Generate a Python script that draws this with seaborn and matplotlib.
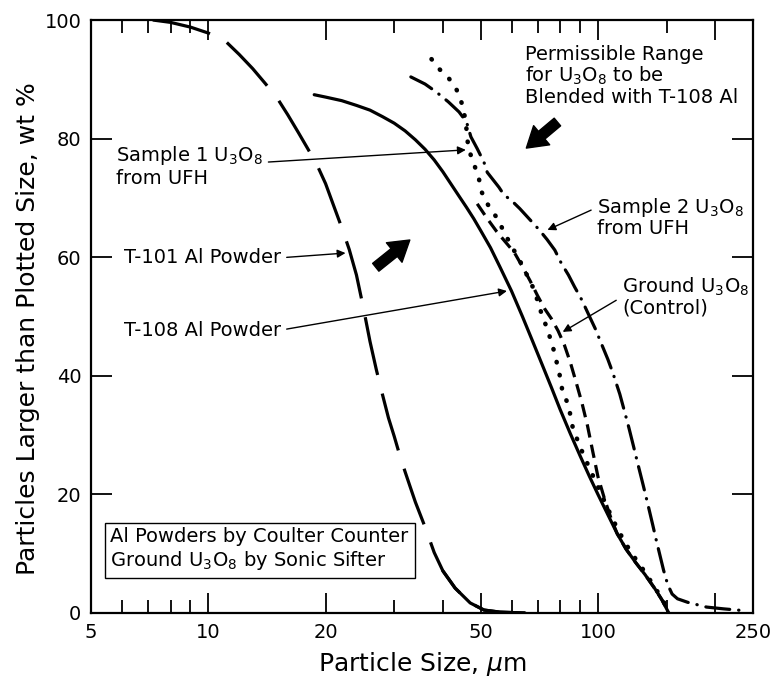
import matplotlib
matplotlib.use("Agg")
import matplotlib.pyplot as plt
from matplotlib.ticker import NullFormatter
import seaborn as sns

# ---------------- data ----------------
t101_x = [7.2, 8.0, 9.0, 10.0, 11.0, 12.0, 13.0, 14.0, 15.0, 16.0, 17.0, 18.0, 19.0,
          20.0, 21.0, 22.0, 23.0, 24.0, 25.0, 26.0, 27.0, 28.0, 29.0, 30.0, 31.0,
          32.0, 33.0, 34.0, 36.0, 38.0, 40.0, 43.0, 47.0, 51.0, 56.0, 65.0]
t101_y = [100.0, 99.6, 98.8, 97.8, 96.6, 94.2, 91.8, 89.3, 86.9, 84.0, 81.1, 78.3, 75.6,
          72.4, 68.6, 65.0, 61.3, 57.0, 51.5, 45.8, 41.0, 36.8, 32.9, 29.8, 26.6,
          23.8, 21.2, 18.7, 14.5, 10.2, 7.1, 4.2, 1.7, 0.5, 0.15, 0.0]

t108_x = [18.7, 20, 22, 24, 26, 28, 30, 32, 34, 36, 38, 40, 42, 44, 46, 48, 50, 53, 56,
          60, 64, 68, 72, 76, 80, 85, 90, 95, 100, 106, 112, 118, 125, 132, 140, 146, 152]
t108_y = [87.4, 87.0, 86.4, 85.6, 84.8, 83.7, 82.6, 81.3, 79.8, 78.2, 76.4, 74.4, 72.3,
          70.3, 68.4, 66.5, 64.5, 61.6, 58.4, 54.3, 50.0, 45.8, 41.8, 38.0, 34.3, 30.2,
          26.5, 23.1, 20.0, 16.6, 13.4, 10.8, 8.5, 6.5, 4.1, 2.2, 0.0]

s1_x = [37.4, 39.2, 41.4, 43.4, 44.7, 45.6, 46.0, 46.3, 47.0, 48.0, 49.4, 50.3, 51.9,
        53.8, 55.7, 57.4, 59.9, 63.5, 68.6, 72.1, 74.4, 76.0, 77.5, 78.7, 80.1, 81.1,
        83.6, 85.1, 86.2, 90, 95, 100, 106, 112, 118, 125, 132, 140, 146, 152]
s1_y = [93.4, 91.7, 90.2, 88.2, 86.0, 83.5, 81.5, 79.5, 77.5, 75.8, 73.5, 71.0, 69.1,
        67.6, 66.1, 64.2, 62.0, 59.0, 54.5, 49.9, 47.7, 45.5, 43.8, 41.7, 39.6, 37.3,
        35.4, 33.2, 31.2, 28.0, 24.5, 21.3, 17.6, 14.3, 11.6, 9.1, 6.9, 4.3, 2.4, 0.3]

grd_x = [49.0, 52.0, 55.0, 58.0, 61.0, 64.0, 67.0, 70.0, 73.0, 76.0, 79.0, 82.0, 85.0,
         88.0, 91.0, 94.0, 97.0, 100.0, 104.0, 108.0, 112.0, 118.0, 125.0, 132.0,
         140.0, 146.0, 152.0]
grd_y = [69.0, 66.5, 64.3, 62.5, 60.8, 58.4, 56.0, 53.5, 51.3, 49.6, 47.6, 45.2, 42.2,
         38.8, 35.4, 31.6, 27.2, 23.0, 19.2, 16.0, 13.4, 10.8, 8.5, 6.5, 4.1, 2.2, 0.0]

s2_x = [33.1, 36.0, 38.4, 41.3, 44.0, 46.0, 47.2, 49.0, 51.0, 52.0, 55.7, 57.4, 59.9,
        63.0, 65.9, 70.7, 74.0, 77.5, 80.5, 84.0, 87.1, 90.9, 95.3, 98.5, 101.2, 106.0,
        109.2, 113.8, 117.0, 120.0, 123.3, 126.2, 130.6, 134.0, 138.3, 141.0, 144.9,
        147.4, 151.0, 155.0, 160.0, 170.0, 190.0, 210.0, 237.0]
s2_y = [90.4, 89.2, 87.9, 86.2, 84.5, 82.8, 80.3, 78.3, 76.0, 74.3, 71.8, 70.5, 69.6,
        68.2, 66.8, 64.6, 63.0, 61.2, 59.0, 57.0, 55.0, 52.8, 49.9, 47.9, 46.0, 42.8,
        40.5, 36.9, 34.0, 31.3, 28.2, 25.5, 21.6, 18.6, 14.8, 12.4, 9.2, 7.2, 4.8, 3.2,
        2.4, 1.8, 1.0, 0.7, 0.4]

x_major = [5, 10, 20, 50, 100, 200, 250]
x_major_labels = ["5", "10", "20", "50", "100", "", "250"]
x_minor = [6, 7, 8, 9, 30, 40, 60, 70, 80, 90, 150]
y_ticks = [0, 20, 40, 60, 80, 100]

# ---------------- style ----------------
sns.set_style("ticks")
K = "black"
plt.rcParams["font.family"] = ["DejaVu Sans"]
plt.rcParams["mathtext.default"] = "regular"
plt.rcParams["text.color"] = K
plt.rcParams["axes.labelcolor"] = K
plt.rcParams["xtick.color"] = K
plt.rcParams["ytick.color"] = K
plt.rcParams["axes.edgecolor"] = K

fig = plt.figure(figsize=(7.75, 6.77), dpi=100)
ax = fig.add_axes([91 / 775, 64 / 677, 662 / 775, 593 / 677])
ax.set_xscale("log")

# T-101: long dashes, becoming solid in its tail
sns.lineplot(x=t101_x, y=t101_y, ax=ax, color=K, lw=2.3,
             linestyle=(0, (18.5, 6)), dash_capstyle="butt")
tail = [i for i, v in enumerate(t101_x) if v >= 39]
sns.lineplot(x=[t101_x[i] for i in tail], y=[t101_y[i] for i in tail], ax=ax,
             color=K, lw=2.3)
# T-108: solid
sns.lineplot(x=t108_x, y=t108_y, ax=ax, color=K, lw=2.3)
# Sample 1: dotted
sns.lineplot(x=s1_x, y=s1_y, ax=ax, color=K, lw=3.3,
             linestyle=(0, (0.1, 2.8)), dash_capstyle="round")
# Ground U3O8 (control): short dashes
sns.lineplot(x=grd_x, y=grd_y, ax=ax, color=K, lw=2.3,
             linestyle=(0, (4.2, 2.3)), dash_capstyle="butt")
# Sample 2: dash-dot
sns.lineplot(x=s2_x, y=s2_y, ax=ax, color=K, lw=2.3,
             linestyle=(0, (7.5, 2.8, 0.1, 2.8)), dash_capstyle="round")

# ---------------- axes ----------------
ax.set_xlim(5, 250)
ax.set_ylim(0, 100)
ax.set_xticks(x_major)
ax.set_xticklabels(x_major_labels)
ax.set_xticks(x_minor, minor=True)
ax.xaxis.set_minor_formatter(NullFormatter())
ax.set_yticks(y_ticks)
ax.set_yticklabels([str(v) for v in y_ticks])
ax.tick_params(axis="x", which="major", direction="in", length=14.5, width=1.3,
               top=True, bottom=True, labelsize=14, pad=7, colors=K)
ax.tick_params(axis="x", which="minor", direction="in", length=9.5, width=1.3,
               top=True, bottom=True, colors=K)
ax.tick_params(axis="y", which="major", direction="in", length=15, width=1.3,
               left=True, right=True, labelsize=14, pad=7, colors=K)
ax.tick_params(axis="y", which="minor", left=False, right=False)
for s in ax.spines.values():
    s.set_visible(True)
    s.set_linewidth(1.6)
    s.set_color(K)

ax.set_xlabel("Particle Size, $\\mathit{\\mu}$m", fontsize=18, color=K)
ax.xaxis.set_label_coords(0.5, -0.062)
ax.set_ylabel("Particles Larger than Plotted Size, wt %", fontsize=18, color=K)
ax.yaxis.set_label_coords(-0.077, 0.48)

# ---------------- annotations ----------------
thin = dict(arrowstyle="-|>", color=K, lw=1.0, mutation_scale=12, shrinkA=2, shrinkB=0)

ax.annotate("Sample 1 U$_3$O$_8$\nfrom UFH", xy=(45.8, 78.1), xytext=(5.78, 75.4),
            ha="left", va="center", fontsize=14, linespacing=1.1, color=K,
            arrowprops=dict(thin, relpos=(1.0, 0.58)))
ax.annotate("T-101 Al Powder", xy=(22.5, 60.7), xytext=(6.06, 59.9),
            ha="left", va="center", fontsize=14, color=K,
            arrowprops=dict(thin, relpos=(1.0, 0.5)))
ax.annotate("T-108 Al Powder", xy=(58.4, 54.3), xytext=(6.06, 47.7),
            ha="left", va="center", fontsize=14, color=K,
            arrowprops=dict(thin, relpos=(1.0, 0.5)))
ax.annotate("Sample 2 U$_3$O$_8$\nfrom UFH", xy=(74.2, 64.6), xytext=(99.4, 66.8),
            ha="left", va="center", fontsize=14, linespacing=1.05, color=K,
            arrowprops=dict(thin, relpos=(0.0, 0.72)))
ax.annotate("Ground U$_3$O$_8$\n(Control)", xy=(81.2, 47.4), xytext=(115.2, 53.3),
            ha="left", va="center", fontsize=14, linespacing=1.05, color=K,
            arrowprops=dict(thin, relpos=(0.0, 0.5)))

ax.text(64.8, 90.6, "Permissible Range\nfor U$_3$O$_8$ to be\nBlended with T-108 Al",
        ha="left", va="center", fontsize=14, linespacing=1.05, color=K)

thick = dict(arrowstyle="simple,head_length=0.8,head_width=1.0,tail_width=0.4",
             fc=K, ec=K, mutation_scale=18, shrinkA=0, shrinkB=0)
ax.annotate("", xy=(65.5, 78.4), xytext=(78.7, 82.8), arrowprops=thick)
ax.annotate("", xy=(32.9, 62.9), xytext=(26.9, 58.3), arrowprops=thick)

ax.text(5.61, 10.7, "Al Powders by Coulter Counter\nGround U$_3$O$_8$ by Sonic Sifter",
        ha="left", va="center", fontsize=14, linespacing=1.2, color=K,
        bbox=dict(boxstyle="square,pad=0.3", fc="white", ec=K, lw=1.0))

fig.savefig("out.png", dpi=100, facecolor="white")
